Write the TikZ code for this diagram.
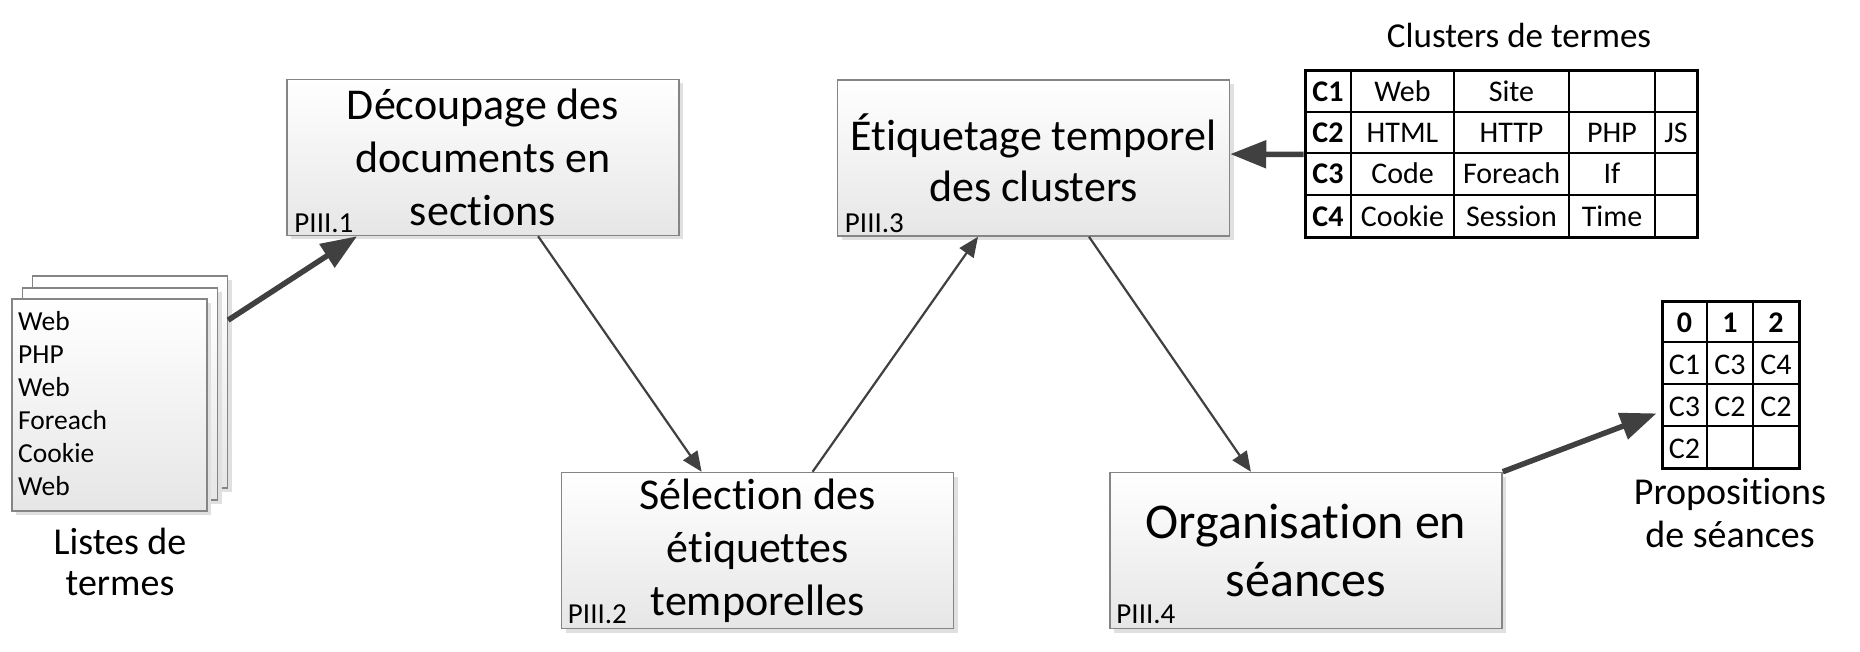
\documentclass[tikz,border=0pt]{standalone}
\usepackage{fontspec}
\setmainfont{Carlito}[Ligatures=NoCommon]
\usetikzlibrary{arrows.meta,calc,shadows}
\definecolor{arr}{HTML}{404040}
\definecolor{bord}{HTML}{858585}
\definecolor{boxbot}{HTML}{E6E6E6}
\begin{document}
\begin{tikzpicture}[x=1pt,y=-1pt,
  proc/.style={draw=bord, line width=1.5pt, top color=white, bottom color=boxbot,
    minimum width=392pt, minimum height=156pt, inner sep=0pt, align=center,
    drop shadow={shadow xshift=4pt, shadow yshift=-4pt, fill=black!12, opacity=1}},
  page/.style={draw=bord, line width=1.2pt, top color=white, bottom color=boxbot,
    minimum width=195pt, minimum height=212pt, inner sep=0pt,
    drop shadow={shadow xshift=4pt, shadow yshift=-4pt, fill=black!12, opacity=1}},
  tag/.style={anchor=base west, inner sep=0pt, font=\fontsize{29}{29}\selectfont},
  cell/.style={anchor=base, inner sep=0pt, font=\fontsize{30}{30}\selectfont},
  bcell/.style={cell, font=\fontsize{30}{30}\selectfont\bfseries},
  lab/.style={anchor=base, inner sep=0pt, font=\fontsize{38}{38}\selectfont},
  thin/.style={draw=arr, line width=2.2pt, -{Triangle[length=20pt,width=17pt]}},
  thick/.style={draw=arr, line width=5.5pt, -{Triangle[length=36pt,width=27pt]}},
  tab/.style={draw=black, line width=3pt, inner sep=0pt}
]
\useasboundingbox (0,0) rectangle (1860,652);

% process boxes
\node[proc, font=\fontsize{44}{53}\selectfont] (box1) at (483,157.5)
  {Découpage des\\documents en\\sections};
\node[proc, font=\fontsize{44}{53}\selectfont] (box2) at (757.5,550.5)
  {Sélection des\\étiquettes\\temporelles};
\node[proc, font=\fontsize{44}{51}\selectfont] (box3) at (1033.5,158)
  {\raisebox{0pt}[0pt][0pt]{}Étiquetage temporel\\des clusters};
\node[proc, font=\fontsize{50}{58}\selectfont] (box4) at (1306,550.5)
  {Organisation en\\séances};

\node[tag] (p1) at ($(box1.south west)+(8,-4)$) {PIII.1};
\node[tag] (p2) at ($(box2.south west)+(7,-6)$) {PIII.2};
\node[tag] (p3) at ($(box3.south west)+(8,-4)$) {PIII.3};
\node[tag] (p4) at ($(box4.south west)+(7,-6)$) {PIII.4};

% term lists (stacked pages)
\node[page] (listC) at (130,382) {};
\node[page] (listB) at (120,394) {};
\node[page] (listA) at (109.5,405) {};
\node[anchor=north west, inner sep=0pt, align=left, font=\fontsize{27.5}{33}\selectfont]
  (listtext) at (18,311) {Web\\PHP\\Web\\Foreach\\Cookie\\Web};
\node[lab] (ll1) at (120,554) {Listes de};
\node[lab] (ll2) at (120,595) {termes};

% clusters table
\node[lab, font=\fontsize{35}{35}\selectfont] (ctitle) at (1519,48) {Clusters de termes};
\node[tab, minimum width=392pt, minimum height=167pt] (clus) at (1501,154.5) {};
\foreach \xx in {1351,1454,1569,1655}
  \draw[line width=2pt] (\xx,71) -- (\xx,238);
\foreach \yy in {112,153,195}
  \draw[line width=2pt] (1305,\yy) -- (1697,\yy);
\foreach \r/\yy in {1/101.5,2/142.5,3/184,4/226.5}
  \node[bcell] (ck\r) at (1328,\yy) {C\r};
\foreach \n/\xx/\yy/\t in {a/1402.5/101.5/Web, b/1511.5/101.5/Site,
   c/1402.5/142.5/HTML, d/1511.5/142.5/HTTP, e/1612/142.5/PHP, f/1676/142.5/JS,
   g/1402.5/184/Code, h/1511.5/184/Foreach, i/1612/184/If,
   j/1402.5/226.5/Cookie, k/1511.5/226.5/Session, l/1612/226.5/Time}
  \node[cell] (cc\n) at (\xx,\yy) {\t};

% propositions table
\node[tab, minimum width=137pt, minimum height=167pt] (props) at (1730.5,384.5) {};
\foreach \xx in {1707,1753}
  \draw[line width=2pt] (\xx,301) -- (\xx,468);
\foreach \yy in {342,384,426}
  \draw[line width=2pt] (1662,\yy) -- (1799,\yy);
\foreach \n/\xx in {0/1684.5,1/1730,2/1776}
  \node[bcell] (ph\n) at (\xx,332.5) {\n};
\foreach \n/\xx/\yy/\t in {a/1684.5/374/C1, b/1730/374/C3, c/1776/374/C4,
   d/1684.5/416/C3, e/1730/416/C2, f/1776/416/C2, g/1684.5/458/C2}
  \node[cell] (pc\n) at (\xx,\yy) {\t};
\node[lab] (pl1) at (1730,504) {Propositions};
\node[lab] (pl2) at (1730,547) {de séances};

% connectors
\draw[thick] ($(listC.north east)!0.21!(listC.south east)$) -- ($(box1.south west)!0.18!(box1.south east)$);
\draw[thin] ($(box1.south west)!0.64!(box1.south east)$) -- ($(box2.north west)!0.358!(box2.north east)$);
\draw[thin] ($(box2.north west)!0.64!(box2.north east)$) -- ($(box3.south west)!0.359!(box3.south east)$);
\draw[thin] ($(box3.south west)!0.641!(box3.south east)$) -- ($(box4.north west)!0.36!(box4.north east)$);
\draw[thick] (box4.north east) -- ($(props.north west)!0.67!(props.south west)+(-4,0)$);
\draw[thick] (clus.west) -- ($(box3.north east)!0.475!(box3.south east)$);
\end{tikzpicture}
\end{document}
